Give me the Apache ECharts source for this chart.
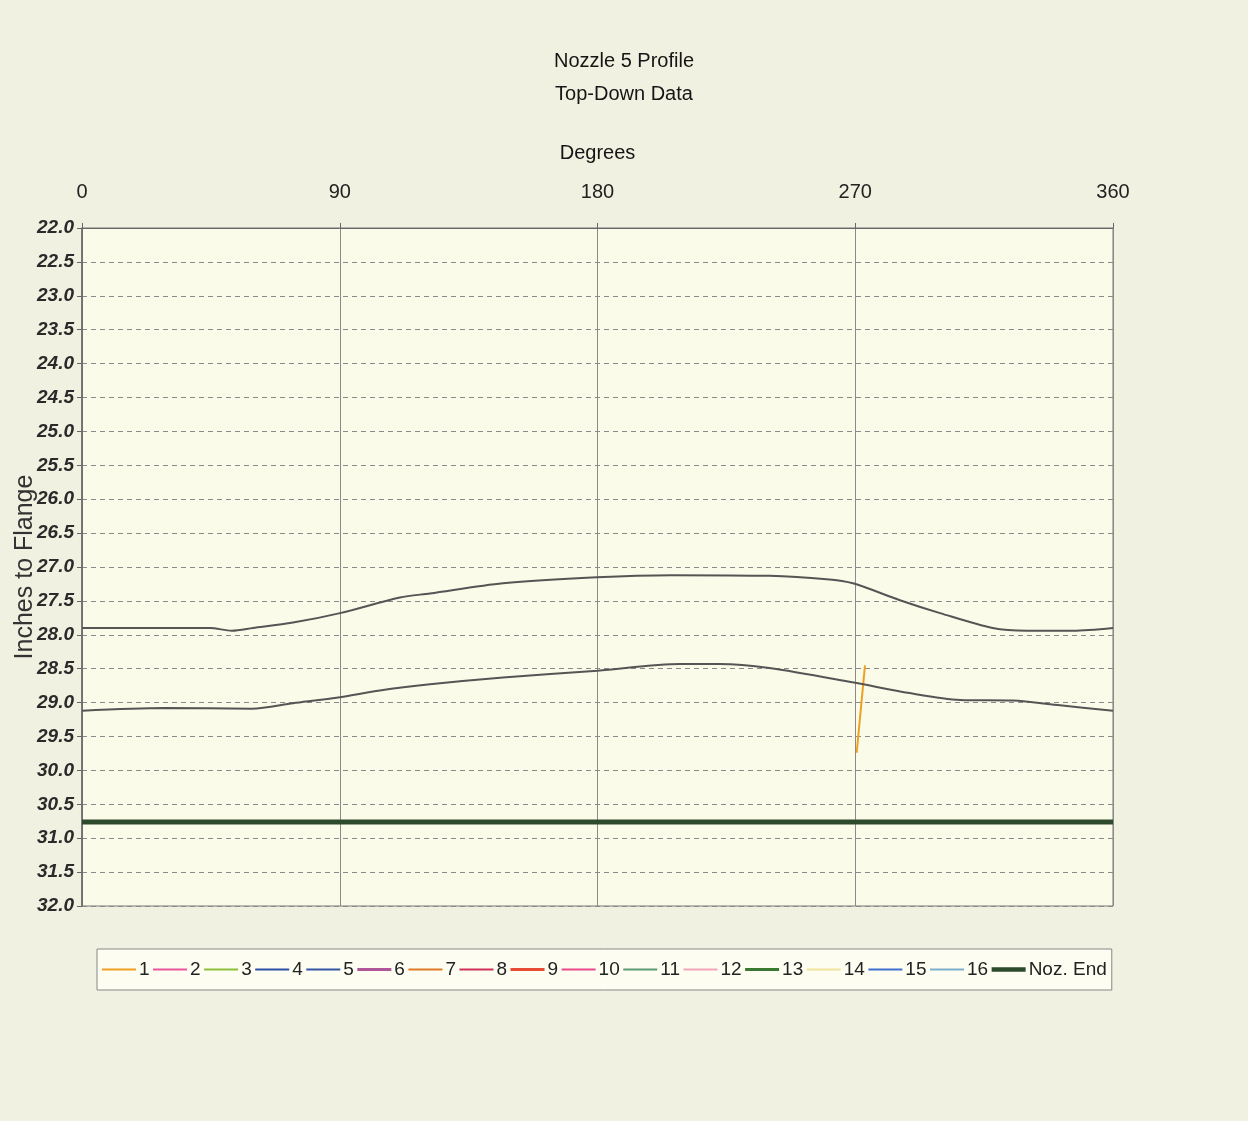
<!DOCTYPE html>
<html>
<head>
<meta charset="utf-8">
<script src="https://cdn.jsdelivr.net/npm/echarts@6/dist/echarts.min.js"></script>
<style>
html,body{margin:0;padding:0;background:#f1f1e1;}
#chart{width:1248px;height:1121px;}
</style>
</head>
<body>
<div id="chart"></div>
<script>
// ---- Data ----
const titleLines = ['Nozzle 5 Profile', 'Top-Down Data'];
const xTicks = [0, 90, 180, 270, 360];
const yMin = 22.0, yMax = 32.0, yStep = 0.5;

// upper gray profile: [degrees, inches]
const upperProfile = [
  [0, 27.90], [44.7, 27.90], [52.3, 27.94], [59.7, 27.90], [73.7, 27.82],
  [90.1, 27.68], [111, 27.45], [121.5, 27.39], [147, 27.24], [179.8, 27.15],
  [206, 27.12], [240, 27.13], [260, 27.18], [269.2, 27.24], [285.6, 27.49],
  [299.6, 27.68], [318, 27.90], [330, 27.94], [346, 27.94], [360, 27.90]
];
// lower gray profile
const lowerProfile = [
  [0, 29.12], [28.6, 29.08], [59.3, 29.09], [73.7, 29.01], [90.1, 28.92],
  [104, 28.82], [121.5, 28.73], [147, 28.63], [180, 28.53], [208.8, 28.43],
  [222.7, 28.43], [240, 28.49], [269, 28.70], [289, 28.86], [306.6, 28.96],
  [325, 28.97], [341.5, 29.04], [360, 29.12]
];
// series "1" (orange)
const series1 = [[270.5, 29.74], [273.4, 28.45]];
// Nozzle end
const nozEnd = [[0, 30.76], [360, 30.76]];

const legendNames = ['1','2','3','4','5','6','7','8','9','10','11','12','13','14','15','16','Noz. End'];
const legendColors = ['#f0a020','#e8559a','#8cbf3a','#2c4ea6','#3454a4','#b0559a','#e07a28','#d0305a',
                      '#e84a34','#ea4a8c','#5e9a70','#f2a6b8','#3a7a30','#f2e49a','#3f70d0','#7ab0cc','#2e4a2c'];
const legendWidths = [2,2,2,2,2,3,1,1,3,1,2,1,3,1,1,1,5];

const chart = echarts.init(document.getElementById('chart'), null, {renderer:'canvas'});
const FONT = 'Liberation Sans, Arial, sans-serif';

const series = [];
legendNames.forEach((n, i) => {
  let data = [];
  if (n === '1') data = series1;
  if (n === 'Noz. End') data = nozEnd;
  series.push({
    name: n, type: 'line', data: data, symbol: 'none', silent: true,
    lineStyle: {color: legendColors[i], width: legendWidths[i]},
    itemStyle: {color: legendColors[i]},
    z: n === 'Noz. End' ? 3 : 4
  });
});
series.push({
  name: 'Upper', type: 'line', data: upperProfile, symbol: 'none', smooth: 0.3,
  lineStyle: {color: '#555555', width: 2}, z: 5
});
series.push({
  name: 'Lower', type: 'line', data: lowerProfile, symbol: 'none', smooth: 0.3,
  lineStyle: {color: '#555555', width: 2}, z: 5
});

const legendData = legendNames.map((n, i) => ({
  name: n,
  icon: 'path://M0,0h34v' + Math.max(2, legendWidths[i] === 5 ? 4.5 : legendWidths[i]) + 'h-34z',
  itemStyle: {color: legendColors[i]}
}));

chart.setOption({
  backgroundColor: '#f1f1e1',
  animation: false,
  title: {
    text: titleLines.join('\n'),
    left: 'center', top: 40,
    textStyle: {fontFamily: FONT, fontSize: 20, fontWeight: 'normal', color: '#151515', lineHeight: 33}
  },
  grid: {
    left: 82, right: 135, top: 228, bottom: 215,
    containLabel: false, outerBoundsMode: 'none',
    show: true, backgroundColor: '#fbfbe9', borderColor: '#777', borderWidth: 1
  },
  legend: {
    data: legendData,
    left: 97, top: 949,
    orient: 'horizontal',
    backgroundColor: '#fdfdf2', borderColor: '#888', borderWidth: 1,
    padding: [11, 5, 11, 5],
    itemWidth: 34, itemHeight: 20, itemGap: 3.5,
    symbolKeepAspect: true,
    textStyle: {fontFamily: FONT, fontSize: 19, color: '#222', padding: [0, 0, 0, -2]}
  },
  xAxis: {
    type: 'value', position: 'top', min: 0, max: 360, interval: 90,
    name: 'Degrees', nameLocation: 'middle', nameGap: 65,
    nameTextStyle: {fontFamily: FONT, fontSize: 20, color: '#151515'},
    axisLine: {show: true, lineStyle: {color: '#666', width: 1}},
    axisTick: {show: true, length: 5, lineStyle: {color: '#666'}},
    axisLabel: {fontFamily: FONT, fontSize: 20, color: '#222', margin: 26,
      formatter: v => xTicks.includes(v) ? String(v) : ''},
    splitLine: {show: true, lineStyle: {color: '#8a8a8a', width: 1}}
  },
  yAxis: {
    type: 'value', inverse: true, min: yMin, max: yMax, interval: yStep,
    name: 'Inches to Flange', nameLocation: 'middle', nameGap: 44, nameRotate: 90,
    nameMoveOverlap: false,
    nameTextStyle: {fontFamily: FONT, fontSize: 25, color: '#333'},
    axisLine: {show: true, lineStyle: {color: '#666', width: 1.5}},
    axisTick: {show: true, length: 5, lineStyle: {color: '#666'}},
    axisLabel: {fontFamily: FONT, fontSize: 19, fontStyle: 'italic', fontWeight: 'bold', color: '#2a2a2a', margin: 8,
      formatter: v => v.toFixed(1)},
    splitLine: {show: true, lineStyle: {color: '#8a8a8a', width: 1, type: [5, 4]}}
  },
  series: series
});
</script>
</body>
</html>
